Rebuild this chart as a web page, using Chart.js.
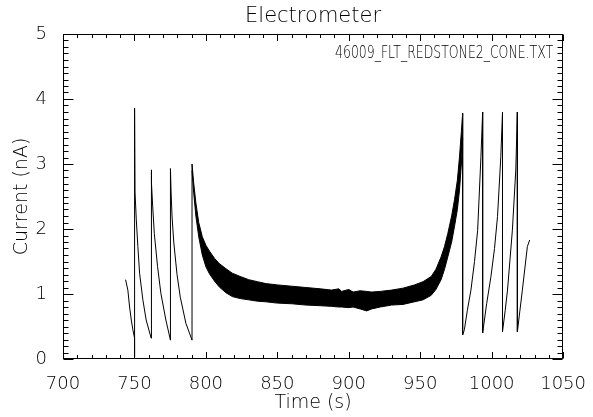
<!DOCTYPE html>
<html>
<head>
<meta charset="utf-8">
<script src="https://cdn.jsdelivr.net/npm/chart.js@4.4.1/dist/chart.umd.min.js"></script>
<style>
  body { margin: 0; background: #fff; }
  #chart { display: block; }
</style>
</head>
<body>
<canvas id="chart" width="593" height="417"></canvas>
<script>
// sawtooth before the plateau (time s, current nA)
var leftTime    = [743.8, 745.4, 746.6, 747.8, 748.9, 750.1, 750.1, 750.1, 750.4, 751.3, 752.4, 753.6, 755.9, 758.2, 761.7,
                   761.7, 762.1, 762.8, 763.9, 766.2, 768.5, 772.0, 775.2,
                   775.2, 775.6, 776.3, 777.5, 779.8, 782.1, 786.0, 790.3, 790.3];
var leftCurrent = [1.22, 1.06, 0.80, 0.60, 0.45, 0.32, 0.03, 3.86, 2.57, 2.14, 1.73, 1.32, 0.91, 0.60, 0.32,
                   2.91, 2.71, 2.34, 1.93, 1.42, 1.01, 0.60, 0.29,
                   2.93, 2.60, 2.20, 1.80, 1.30, 0.95, 0.55, 0.29, 3.00];

// dense oscillating plateau, read as upper / lower envelope
var bandTime  = [790.3, 791.5, 793.0, 795.0, 797.5, 800.0, 802.5, 806.0, 809.3, 814.0, 818.5, 824.0, 830.0, 836.0, 842.0,
                 850.0, 860.0, 870.0, 880.0, 888.0, 893.0, 895.0, 900.0, 903.0, 908.0, 912.5, 916.0, 922.0, 930.0, 938.0,
                 946.0, 952.0, 957.7, 961.0, 964.6, 967.0, 969.3, 972.0, 974.0, 976.0, 977.5, 978.8, 979.7];
var bandUpper = [3.00, 2.70, 2.40, 2.10, 1.88, 1.75, 1.66, 1.55, 1.47, 1.39, 1.32, 1.27, 1.22, 1.19, 1.16,
                 1.14, 1.12, 1.10, 1.08, 1.06, 1.08, 1.04, 1.07, 1.03, 1.05, 1.04, 1.03, 1.04, 1.06, 1.09,
                 1.14, 1.19, 1.27, 1.38, 1.57, 1.73, 1.93, 2.20, 2.45, 2.75, 3.11, 3.50, 3.78];
var bandLower = [2.90, 2.55, 2.20, 1.88, 1.60, 1.42, 1.31, 1.20, 1.11, 1.02, 0.96, 0.93, 0.91, 0.89, 0.88,
                 0.86, 0.85, 0.83, 0.82, 0.81, 0.80, 0.80, 0.79, 0.80, 0.77, 0.74, 0.77, 0.80, 0.83, 0.84,
                 0.88, 0.91, 0.98, 1.07, 1.22, 1.38, 1.57, 1.80, 2.04, 2.30, 2.60, 3.00, 3.40];

// sawtooth after the plateau
var rightTime    = [979.7, 979.7, 980.9, 983.0, 985.5, 988.0, 990.2, 992.5, 993.7,
                    993.7, 996.5, 999.5, 1002.0, 1004.1, 1006.4, 1007.6,
                    1007.6, 1009.5, 1011.1, 1014.5, 1016.9, 1018.0,
                    1018.0, 1019.8, 1021.5, 1025.0, 1026.6];
var rightCurrent = [3.78, 0.37, 0.45, 0.75, 1.06, 1.50, 1.98, 3.11, 3.80,
                    0.40, 0.85, 1.27, 1.70, 2.19, 3.11, 3.80,
                    0.42, 0.75, 1.06, 1.98, 2.91, 3.80,
                    0.42, 0.75, 1.06, 1.73, 1.83];

var xTicks = [700, 750, 800, 850, 900, 950, 1000, 1050];
var yTicks = [0, 1, 2, 3, 4, 5];

var chartTitle = 'Electrometer';
var fileLabel = '46009_FLT_REDSTONE2_CONE.TXT';

function toPoints(xs, ys) {
  var pts = [];
  for (var i = 0; i < xs.length; i++) {
    pts.push({ x: xs[i], y: ys[i] });
  }
  return pts;
}

var ink = '#000';
var textInk = '#000';
var family = '"DejaVu Sans", sans-serif';

// IDL style frame: box with inward major / minor ticks on all four sides, plus the title and file name
var idlFrame = {
  id: 'idlFrame',
  afterDraw: function(chart) {
    var ctx = chart.ctx;
    var a = chart.chartArea;
    var xs = chart.scales.x, ys = chart.scales.y;
    var L = Math.round(a.left) + 0.5, R = Math.round(a.right) - 0.5;
    var T = Math.round(a.top) + 0.5, B = Math.round(a.bottom) - 0.5;
    ctx.save();
    ctx.strokeStyle = ink;
    ctx.lineWidth = 1;
    ctx.strokeRect(L, T, R - L, B - T);

    ctx.beginPath();
    var v, p, len;
    for (v = xs.min; v <= xs.max + 0.001; v += 10) {
      p = Math.round(xs.getPixelForValue(v)) + 0.5;
      len = (Math.round(v) % 50 === 0) ? 6.5 : 3.5;
      ctx.moveTo(p, B); ctx.lineTo(p, B - len);
      ctx.moveTo(p, T); ctx.lineTo(p, T + len);
    }
    for (var k = 0; k <= 50; k++) {
      v = ys.min + k * 0.1;
      p = Math.round(ys.getPixelForValue(v)) + 0.5;
      len = (k % 10 === 0) ? 10 : 5;
      ctx.moveTo(L, p); ctx.lineTo(L + len, p);
      ctx.moveTo(R, p); ctx.lineTo(R - len, p);
    }
    ctx.stroke();

    ctx.fillStyle = textInk;
    ctx.textBaseline = 'alphabetic';
    ctx.textAlign = 'center';
    ctx.font = '300 21px ' + family;
    ctx.fillText(chartTitle, (a.left + a.right) / 2, 22);

    // file name, squeezed to the narrow vector-font width
    ctx.font = '300 17px ' + family;
    var w = ctx.measureText(fileLabel).width;
    var target = 218;
    ctx.translate(a.right - 10, 58);
    ctx.scale(target / w, 1);
    ctx.textAlign = 'right';
    ctx.fillText(fileLabel, 0, 0);
    ctx.restore();
  }
};

var lineStyle = {
  borderColor: ink,
  backgroundColor: ink,
  borderWidth: 1,
  pointRadius: 0,
  tension: 0,
  fill: false
};

var data = {
  datasets: [
    Object.assign({ label: 'before', data: toPoints(leftTime, leftCurrent) }, lineStyle),
    Object.assign({ label: 'plateau high', data: toPoints(bandTime, bandUpper) }, lineStyle),
    Object.assign({}, lineStyle, { label: 'plateau low', data: toPoints(bandTime, bandLower), fill: '-1' }),
    Object.assign({ label: 'after', data: toPoints(rightTime, rightCurrent) }, lineStyle)
  ]
};

var tickFont = { family: family, size: 18, weight: '300' };
var titleFont = { family: family, size: 19, weight: '300' };

var ctx = document.getElementById('chart').getContext('2d');
var chart = new Chart(ctx, {
  type: 'line',
  data: data,
  options: {
    responsive: false,
    animation: false,
    layout: { padding: { top: 34, right: 27, left: 0, bottom: 0 } },
    plugins: {
      legend: { display: false },
      tooltip: { enabled: false },
      title: { display: false }
    },
    scales: {
      x: {
        type: 'linear',
        min: 700,
        max: 1050,
        afterBuildTicks: function(scale) {
          scale.ticks = xTicks.map(function(v) { return { value: v }; });
        },
        afterFit: function(scale) { scale.height = 58; },
        grid: { display: false },
        border: { display: false },
        ticks: {
          color: textInk, font: tickFont, padding: 7, maxRotation: 0, autoSkip: false,
          callback: function(v) { return String(v); }
        },
        title: { display: true, text: 'Time (s)', color: textInk, font: titleFont, padding: { top: 0, bottom: 3 } }
      },
      y: {
        min: 0,
        max: 5,
        afterBuildTicks: function(scale) {
          scale.ticks = yTicks.map(function(v) { return { value: v }; });
        },
        afterFit: function(scale) { scale.width = 63; },
        grid: { display: false },
        border: { display: false },
        ticks: {
          color: textInk, font: tickFont, padding: 8,
          callback: function(v) { return String(v); }
        },
        title: { display: true, text: 'Current (nA)', color: textInk, font: titleFont, padding: { top: 11, bottom: 0 } }
      }
    }
  },
  plugins: [idlFrame]
});
</script>
</body>
</html>
